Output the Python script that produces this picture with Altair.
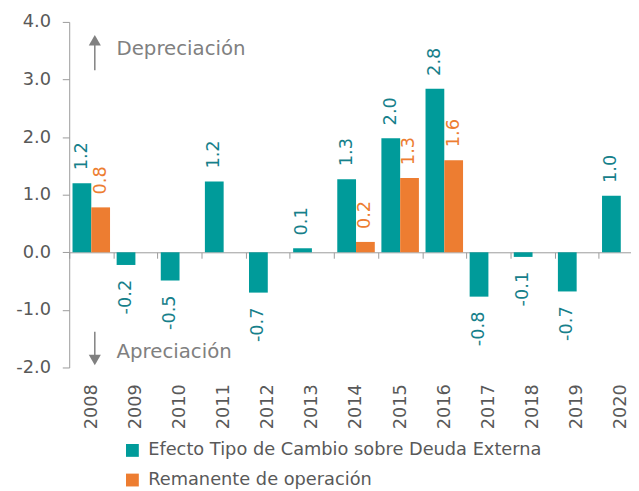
import altair as alt
import pandas as pd

# ---- data ----
years = ["2008", "2009", "2010", "2011", "2012", "2013", "2014",
         "2015", "2016", "2017", "2018", "2019", "2020"]
efecto = [1.20, -0.22, -0.49, 1.23, -0.70, 0.07, 1.27, 1.98, 2.84, -0.77, -0.08, -0.68, 0.98]
remanente = [0.78, None, None, None, None, None, 0.18, 1.29, 1.60, None, None, None, None]
series = ["Efecto Tipo de Cambio sobre Deuda Externa", "Remanente de operación"]
bar_colors = ["#009B9A", "#ED7D31"]
label_colors = ["#16808A", "#ED7D31"]
y_ticks = [-2, -1, 0, 1, 2, 3, 4]

ann_year = ["2008", "2008"]
ann_text = ["Depreciación", "Apreciación"]
ann_text_y = [3.52, -1.74]
arrow_start = [3.16, -1.38]
arrow_head = [3.68, -1.87]
arrow_shape = ["triangle-up", "triangle-down"]

rows = []
for i, yr in enumerate(years):
    for s, vals in zip(series, [efecto, remanente]):
        rows.append({"year": yr, "serie": s, "value": vals[i]})
df = pd.DataFrame(rows)

ann = pd.DataFrame({"year": ann_year, "text": ann_text, "ty": ann_text_y,
                    "a0": arrow_start, "a1": arrow_head, "shape": arrow_shape})

FONT = "DejaVu Sans"
TXT = "#595959"
AXC = "#9A9A9A"
W, H = 569, 350
YMIN, YMAX = -2, 4
zero_offset = -H * (0 - YMIN) / (YMAX - YMIN)

xscale = alt.Scale(domain=years, range=[0, 581], paddingInner=0, paddingOuter=0)
xenc = alt.X("year:N", sort=years, scale=xscale,
             axis=alt.Axis(title=None, orient="bottom", offset=zero_offset,
                           domainColor=AXC, tickColor=AXC, tickSize=6, tickBand="extent",
                           labelAngle=270, labelAlign="right", labelBaseline="middle",
                           labelPadding=127, labelFont=FONT, labelFontSize=18,
                           labelColor=TXT))
yenc = alt.Y("value:Q", scale=alt.Scale(domain=[YMIN, YMAX], nice=False, zero=False),
             axis=alt.Axis(title=None, values=y_ticks, format=".1f", grid=False,
                           labelExpr="replace(datum.label, '\u2212', '-')",
                           domainColor=AXC, tickColor=AXC, tickSize=7, labelPadding=12,
                           labelFont=FONT, labelFontSize=18, labelColor=TXT))
xoff = alt.XOffset("serie:N", sort=series,
                   scale=alt.Scale(domain=series, paddingInner=0, paddingOuter=0.176))

bars = alt.Chart(df).mark_bar().encode(
    x=xenc, xOffset=xoff, y=yenc,
    color=alt.Color("serie:N", sort=series,
                    scale=alt.Scale(domain=series, range=bar_colors),
                    legend=alt.Legend(title=None, orient="none", legendX=55, legendY=425,
                                      direction="vertical", labelFont=FONT, labelFontSize=18,
                                      labelColor=TXT, symbolType="square", symbolSize=169,
                                      symbolStrokeWidth=0, labelOffset=7, rowPadding=12,
                                      labelLimit=0, padding=0)),
)

layers = [bars]
for s, c in zip(series, label_colors):
    for cond, align, dx in [("datum.value > 0", "left", 13), ("datum.value < 0", "right", -15)]:
        layers.append(
            alt.Chart(df).transform_filter(alt.datum.serie == s).transform_filter(cond)
            .transform_calculate(lab="replace(format(datum.value, '.1f'), '\u2212', '-')")
            .mark_text(angle=270, align=align, baseline="middle", dx=dx,
                       font=FONT, fontSize=18, color=c)
            .encode(x=alt.X("year:N", sort=years),
                    xOffset=alt.XOffset("serie:N", sort=series),
                    y=alt.Y("value:Q"),
                    text="lab:N")
        )

arrow_x = alt.X("year:N", sort=years, bandPosition=0.58)
arrows = alt.Chart(ann).mark_rule(color="#808080", strokeWidth=1.5).encode(
    x=arrow_x, y=alt.Y("a0:Q"), y2="a1:Q")
heads = alt.Chart(ann).mark_point(filled=True, color="#808080", size=150, opacity=1).encode(
    x=arrow_x, y=alt.Y("a1:Q"), shape=alt.Shape("shape:N", scale=None))
ann_txt = alt.Chart(ann).mark_text(align="left", baseline="middle", dx=22,
                                   font=FONT, fontSize=20, color="#808080").encode(
    x=arrow_x, y=alt.Y("ty:Q"), text="text:N")

layers += [arrows, heads, ann_txt]

chart = alt.layer(*layers).properties(
    width=W, height=H,
    autosize=alt.AutoSizeParams(type="none"),
    padding={"left": 62, "top": 11, "right": 0, "bottom": 122},
).configure_view(stroke=None)

chart.save("out.html", embed_options={"renderer": "svg", "actions": False})
